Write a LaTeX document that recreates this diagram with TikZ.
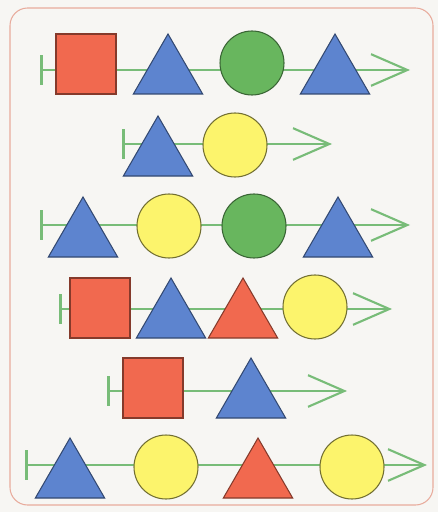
\documentclass[tikz,border=0pt]{standalone}
\usepackage{xcolor}
\definecolor{bgcolor}{HTML}{F7F6F3}
\definecolor{framecol}{HTML}{E8AB9C}
\definecolor{trackgreen}{HTML}{78BC78}
\definecolor{myred}{HTML}{F1694F}
\definecolor{myblue}{HTML}{5D84CF}
\definecolor{mygreen}{HTML}{68B65E}
\definecolor{myyellow}{HTML}{FCF46C}
\usetikzlibrary{arrows.meta, shapes.geometric}

\tikzset{
  track/.style={draw=trackgreen, line width=2.2pt,
    arrows={Bar[width=25pt]-Straight Barb[length=31pt, width=27pt, line width=1.8pt]}},
  shapebase/.style={inner sep=0pt, outer sep=0pt, line width=0.9pt},
  redsq/.style={shapebase, rectangle, draw=myred!55!black, fill=myred, minimum size=1.8cm},
  bluetri/.style={shapebase, regular polygon, regular polygon sides=3, draw=myblue!55!black, fill=myblue, minimum size=2.4cm},
  redtri/.style={shapebase, regular polygon, regular polygon sides=3, draw=myred!55!black, fill=myred, minimum size=2.4cm},
  greendisc/.style={shapebase, circle, draw=mygreen!55!black, fill=mygreen, minimum size=1.92cm},
  yellowdisc/.style={shapebase, circle, draw=myyellow!45!black, fill=myyellow, minimum size=1.92cm}
}

\begin{document}
\begin{tikzpicture}[x=0.03cm, y=-0.03cm]

  % Hintergrund und Rahmen
  \useasboundingbox[fill=bgcolor] (0,0) rectangle (438,512);
  \draw[framecol, line width=0.9pt, rounded corners=15pt] (10,8) rectangle (433,505);

  % Reihe 1
  \coordinate (a0) at (40,70);
  \coordinate (a9) at (410,70);
  \draw[track] (a0) -- (a9);
  \node[redsq] (a1) at (86,64) {};
  \node[bluetri] (a2) at (168,74) {};
  \node[greendisc] (a3) at (252,63) {};
  \node[bluetri] (a4) at (335,74) {};

  % Reihe 2
  \coordinate (b0) at (122,144);
  \coordinate (b9) at (332,144);
  \draw[track] (b0) -- (b9);
  \node[bluetri] (b1) at (158,156) {};
  \node[yellowdisc] (b2) at (235,145) {};

  % Reihe 3
  \coordinate (c0) at (40,225);
  \coordinate (c9) at (410,225);
  \draw[track] (c0) -- (c9);
  \node[bluetri] (c1) at (83,237) {};
  \node[yellowdisc] (c2) at (169,226) {};
  \node[greendisc] (c3) at (254,226) {};
  \node[bluetri] (c4) at (338,237) {};

  % Reihe 4
  \coordinate (d0) at (59,309);
  \coordinate (d9) at (392,309);
  \draw[track] (d0) -- (d9);
  \node[redsq] (d1) at (100,308) {};
  \node[bluetri] (d2) at (171,318) {};
  \node[redtri] (d3) at (243,318) {};
  \node[yellowdisc] (d4) at (315,307) {};

  % Reihe 5
  \coordinate (e0) at (107,391);
  \coordinate (e9) at (347,391);
  \draw[track] (e0) -- (e9);
  \node[redsq] (e1) at (153,388) {};
  \node[bluetri] (e2) at (251,398) {};

  % Reihe 6
  \coordinate (f0) at (25,465);
  \coordinate (f9) at (427,465);
  \draw[track] (f0) -- (f9);
  \node[bluetri] (f1) at (70,478) {};
  \node[yellowdisc] (f2) at (166,467) {};
  \node[redtri] (f3) at (258,478) {};
  \node[yellowdisc] (f4) at (352,467) {};

\end{tikzpicture}
\end{document}
